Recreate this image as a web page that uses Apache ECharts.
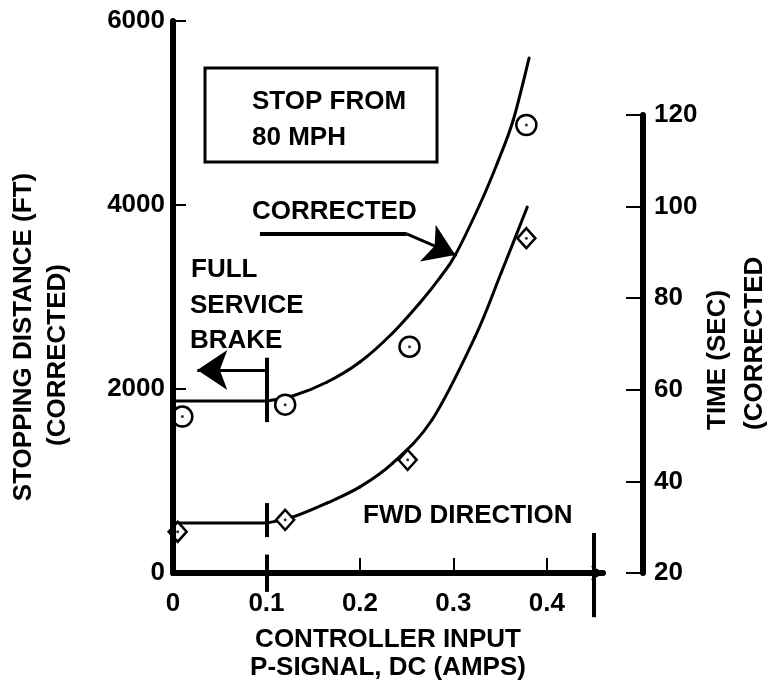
<!DOCTYPE html>
<html><head><meta charset="utf-8">
<script src="https://cdn.jsdelivr.net/npm/echarts@6/dist/echarts.min.js"></script>
<style>html,body{margin:0;padding:0;background:#fff}#c{width:767px;height:692px}</style>
</head><body><div id="c"></div>
<script>
// ---- data ----
const xTicks = [0, 0.1, 0.2, 0.3, 0.4];
const distanceTicks = [0, 2000, 4000, 6000];
const timeTicks = [20, 40, 60, 80, 100, 120];

const distanceInput = [0.01, 0.12, 0.253, 0.378];
const distanceFt = [1700, 1830, 2460, 4870];
const timeInput = [0.005, 0.12, 0.251, 0.378];
const timeSec = [29.0, 31.6, 44.7, 93.1];

const distCurveX = [0.10, 0.128, 0.165, 0.20, 0.235, 0.264, 0.286, 0.302, 0.328, 0.347, 0.364, 0.381];
const distCurveY = [1870, 1924, 2076, 2293, 2609, 2935, 3217, 3457, 4000, 4457, 4924, 5598];
const timeCurveX = [0.10, 0.128, 0.165, 0.20, 0.235, 0.277, 0.323, 0.351, 0.379];
const timeCurveY = [30.9, 32.2, 35.3, 38.8, 44.0, 53.4, 71.5, 85.5, 99.9];

const brakeInput = 0.1;
const brakeDistance = 1870;
const brakeTime = 30.9;

// annotation segments (data units of distance axis)
const plainSegments = [
  [[0.1, 2340], [0.1, 1640]],
  [[0.1, 760], [0.1, 390]],
  [[0.1, 200], [0.1, -205]],
  [[0.45, 435], [0.45, -480]],
  [[0.093, 3685], [0.25, 3685]]
];
const arrowSegments = [
  [[0.1, 2207], [0.026, 2207]],
  [[0.25, 3685], [0.302, 3457]]
];

// ---- chart ----
const FONT = '"Liberation Sans", Arial, Helvetica, sans-serif';
const zip = (a, b) => a.map((v, i) => [v, b[i]]);
const txt = (text, x, y, extra) => Object.assign({
  type: 'text', x: x, y: y,
  style: { text: text, fill: '#000', font: 'bold 26px ' + FONT, align: 'left', verticalAlign: 'middle' }
}, extra || {});

const labelStyle = { color: '#000', fontSize: 26, fontWeight: 'bold', fontFamily: FONT };
const plain = v => String(v);

// smooth curve through the data points (Catmull-Rom -> cubic Bezier), using the axes' scales
function curveSeries(xs, ys, axisIdx) {
  const pts = zip(xs, ys);
  return {
    type: 'custom', coordinateSystem: 'cartesian2d', xAxisIndex: axisIdx, yAxisIndex: axisIdx,
    data: pts, encode: { x: 0, y: 1 }, clip: false, z: 2, silent: true,
    renderItem: function (params, api) {
      const i = params.dataIndex, n = pts.length;
      if (i >= n - 1) return null;
      const P = k => api.coord(pts[Math.max(0, Math.min(n - 1, k))]);
      const p0 = P(i - 1), p1 = P(i), p2 = P(i + 1), p3 = P(i + 2);
      return {
        type: 'bezierCurve',
        shape: {
          x1: p1[0], y1: p1[1], x2: p2[0], y2: p2[1],
          cpx1: p1[0] + (p2[0] - p0[0]) / 6, cpy1: p1[1] + (p2[1] - p0[1]) / 6,
          cpx2: p2[0] - (p3[0] - p1[0]) / 6, cpy2: p2[1] - (p3[1] - p1[1]) / 6
        },
        style: { stroke: '#000', lineWidth: 3, fill: null, lineCap: 'round' }
      };
    }
  };
}

const chart = echarts.init(document.getElementById('c'), null, { renderer: 'canvas' });
chart.setOption({
  animation: false,
  backgroundColor: '#fff',
  grid: [
    { left: 173, top: 21, width: 430, height: 552 },
    { left: 173, top: 115, width: 430, height: 458 }
  ],
  xAxis: [
    {
      gridIndex: 0, type: 'value', min: 0, max: 0.46, interval: 0.1,
      axisLine: { show: true, onZero: false, lineStyle: { color: '#000', width: 6 }, symbol: ['none', 'arrow'], symbolSize: [11, 14], symbolOffset: [0, 2] },
      axisTick: { show: true, inside: true, length: 15, customValues: xTicks, lineStyle: { color: '#000', width: 2 } },
      axisLabel: Object.assign({ margin: 18, customValues: xTicks, formatter: plain }, labelStyle),
      splitLine: { show: false },
      name: 'CONTROLLER INPUT\nP-SIGNAL, DC (AMPS)', nameLocation: 'middle', nameGap: 53,
      nameTextStyle: Object.assign({ lineHeight: 28 }, labelStyle),
      z: 10
    },
    { gridIndex: 1, type: 'value', min: 0, max: 0.46, show: false, axisLine: { onZero: false } }
  ],
  yAxis: [
    {
      gridIndex: 0, type: 'value', min: 0, max: 6000, interval: 2000, position: 'left',
      axisLine: { show: true, onZero: false, lineStyle: { color: '#000', width: 6 } },
      axisTick: { show: true, inside: true, length: 13, lineStyle: { color: '#000', width: 2 } },
      axisLabel: Object.assign({ margin: 8, formatter: plain }, labelStyle),
      splitLine: { show: false },
      z: 10
    },
    {
      gridIndex: 1, type: 'value', min: 20, max: 120, interval: 20, position: 'right', offset: 40,
      axisLine: { show: true, onZero: false, lineStyle: { color: '#000', width: 6 } },
      axisTick: { show: true, inside: true, length: 17, lineStyle: { color: '#000', width: 2 } },
      axisLabel: Object.assign({ margin: 11, formatter: plain }, labelStyle),
      splitLine: { show: false },
      z: 10
    }
  ],
  series: [
    curveSeries(distCurveX, distCurveY, 0),
    curveSeries(timeCurveX, timeCurveY, 1),
    { type: 'line', xAxisIndex: 0, yAxisIndex: 0, data: [[0, brakeDistance], [brakeInput, brakeDistance]], showSymbol: false, lineStyle: { color: '#000', width: 3 }, z: 2 },
    { type: 'line', xAxisIndex: 1, yAxisIndex: 1, data: [[0, brakeTime], [brakeInput, brakeTime]], showSymbol: false, lineStyle: { color: '#000', width: 3 }, z: 2 },
    { type: 'lines', coordinateSystem: 'cartesian2d', xAxisIndex: 0, yAxisIndex: 0, clip: false, polyline: false,
      data: plainSegments.map(c => ({ coords: c })), lineStyle: { color: '#000', width: 4, opacity: 1 }, symbol: ['none', 'none'], z: 3 },
    { type: 'lines', coordinateSystem: 'cartesian2d', xAxisIndex: 0, yAxisIndex: 0, clip: false,
      data: arrowSegments.map(c => ({ coords: c })), lineStyle: { color: '#000', width: 3, opacity: 1 }, symbol: ['none', 'arrow'], symbolSize: [14, 30], z: 3 },
    { type: 'scatter', xAxisIndex: 0, yAxisIndex: 0, data: zip(distanceInput, distanceFt), symbol: 'circle', symbolSize: 20,
      itemStyle: { color: '#fff', borderColor: '#000', borderWidth: 2.5, opacity: 1 }, z: 3 },
    { type: 'scatter', xAxisIndex: 1, yAxisIndex: 1, data: zip(timeInput, timeSec), symbol: 'diamond', symbolSize: [18, 20],
      itemStyle: { color: '#fff', borderColor: '#000', borderWidth: 2.5, opacity: 1 }, z: 3 },
    { type: 'scatter', xAxisIndex: 0, yAxisIndex: 0, data: zip(distanceInput, distanceFt), symbol: 'circle', symbolSize: 3, itemStyle: { color: '#000' }, z: 4 },
    { type: 'scatter', xAxisIndex: 1, yAxisIndex: 1, data: zip(timeInput, timeSec), symbol: 'circle', symbolSize: 3, itemStyle: { color: '#000' }, z: 4 }
  ],
  graphic: [
    { type: 'rect', shape: { x: 205, y: 68, width: 232, height: 94 }, style: { fill: 'none', stroke: '#000', lineWidth: 3 } },
    txt('STOP FROM', 252, 102),
    txt('80 MPH', 252, 138),
    txt('CORRECTED', 252, 212),
    txt('FULL', 191, 270),
    txt('SERVICE', 190, 306),
    txt('BRAKE', 190, 341),
    txt('FWD DIRECTION', 363, 516),
    txt('STOPPING DISTANCE (FT)', 24, 337, { rotation: Math.PI / 2, style: { text: 'STOPPING DISTANCE (FT)', fill: '#000', font: 'bold 26px ' + FONT, align: 'center', verticalAlign: 'middle' } }),
    txt('(CORRECTED)', 58, 355, { rotation: Math.PI / 2, style: { text: '(CORRECTED)', fill: '#000', font: 'bold 26px ' + FONT, align: 'center', verticalAlign: 'middle' } }),
    txt('TIME (SEC)', 718, 430, { rotation: Math.PI / 2 }),
    txt('(CORRECTED', 755, 430, { rotation: Math.PI / 2 })
  ]
});
</script></body></html>
